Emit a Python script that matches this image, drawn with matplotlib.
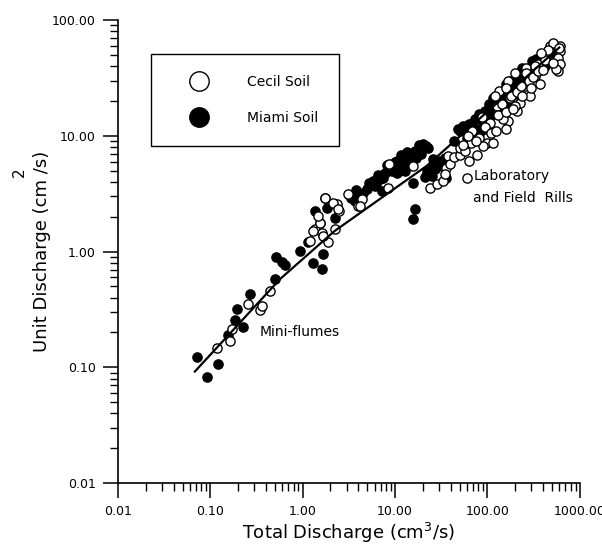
import matplotlib
matplotlib.use("Agg")
import matplotlib.pyplot as plt
from matplotlib.lines import Line2D
from matplotlib.ticker import FixedLocator, LogLocator, NullFormatter

# total discharge (cm3/s) and unit discharge (cm2/s)
cecil_q = [0.117, 0.162, 0.17, 0.254, 0.343, 0.36, 0.44, 1.19, 1.35, 1.61,
           1.53, 1.86, 1.73, 2.33, 2.5, 3.07, 2.22, 1.65, 3.94, 1.28,
           1.45, 2.11, 2.39, 4.35, 4.14, 8.7, 8.3, 15.5, 23.7, 28.2,
           32.7, 36, 37, 34.4, 39, 44, 50, 64, 78, 59.6,
           67, 50, 100, 471, 604, 604, 575, 604, 575, 367,
           286, 224, 207, 167, 161, 146, 135, 167, 265, 349,
           416, 82, 89, 114, 69, 175, 197, 106, 253, 330,
           508, 126, 57, 95, 110, 125, 130, 145, 160, 180,
           190, 210, 230, 240, 260, 280, 300, 310, 330, 350,
           400, 420, 450, 380, 600, 550, 520, 88, 75, 55,
           62, 120, 200, 160]
cecil_u = [0.148, 0.17, 0.216, 0.356, 0.31, 0.342, 0.46, 1.24, 1.58, 1.46,
           1.78, 1.2, 2.93, 2.6, 2.26, 3.17, 1.58, 1.37, 2.5, 1.52,
           2.05, 2.65, 2.35, 2.87, 2.5, 5.75, 3.57, 5.53, 3.57, 3.87,
           4.1, 5.3, 6.7, 4.72, 5.75, 6.6, 6.8, 6.1, 6.8, 4.36,
           8.7, 7.9, 8.6, 60, 60, 54.4, 47.4, 42, 36.6, 28.2,
           22.2, 19.4, 16.5, 13.5, 11.5, 14.1, 24.6, 30, 38.8, 42,
           51.3, 9.6, 8.2, 8.6, 11.1, 21.4, 18.2, 13, 27.2, 33,
           63.8, 18.2, 7.45, 12, 10.5, 11, 15, 19, 16, 22,
           17, 24, 27, 22, 35, 30, 26, 32, 40, 36,
           37, 45, 55, 52, 57, 38, 43, 14.5, 9, 8.3,
           10, 22, 35, 26]

miami_q = [0.071, 0.091, 0.12, 0.154, 0.184, 0.193, 0.224, 0.267, 0.50, 0.52,
           0.59, 0.65, 0.93, 1.28, 1.61, 1.65, 1.13, 1.35, 1.73, 1.82,
           2.22, 1.53, 4.14, 4.93, 5.72, 6.8, 7.7, 8.7, 10.4, 12.1,
           14.4, 16.3, 18.5, 21.4, 7.3, 10.4, 12.7, 9.9, 6.0, 3.65,
           15.5, 16.3, 15.5, 22, 25.5, 30.4, 25, 23.6, 28.2, 36,
           50, 59.6, 54, 82, 89, 64, 82, 114, 135, 161,
           183, 207, 224, 240, 286, 308, 367, 395, 471, 561,
           106, 135, 73, 175, 265, 416, 96, 44, 47.5, 3.3,
           3.8, 4.5, 5.2, 6.2, 6.5, 7.5, 8.2, 9.3, 11, 11.5,
           13, 13.5, 17, 19, 20, 23, 18, 21, 24, 27,
           32, 35, 26, 90, 100, 110, 120, 130, 150, 155,
           170, 190, 200, 215, 230, 250, 270, 300, 320, 340,
           380, 420, 450, 500, 530, 480, 60, 70, 75, 85,
           95, 105, 140, 160, 185]
miami_u = [0.122, 0.083, 0.106, 0.192, 0.254, 0.322, 0.225, 0.434, 0.585, 0.89,
           0.82, 0.77, 1.02, 0.80, 0.71, 0.96, 1.2, 2.26, 2.93, 2.4,
           1.97, 1.78, 3.05, 3.5, 4.1, 4.27, 4.81, 5.3, 6.1, 6.5,
           6.7, 7.45, 7.9, 8.2, 3.36, 4.8, 5.0, 5.9, 3.7, 2.75,
           3.94, 2.35, 1.93, 5.0, 5.53, 6.1, 4.53, 5.0, 5.75, 4.36,
           11.1, 9.6, 12.2, 10.4, 12.7, 12.7, 15.6, 21.4, 20.1, 26.1,
           24.6, 31.8, 27.2, 38.8, 36.6, 44.6, 40.4, 47.4, 54.4, 57.8,
           17.2, 16.5, 14.1, 30, 31.8, 40.4, 11.5, 9.1, 11.5, 2.9,
           3.4, 3.2, 3.9, 3.8, 4.6, 4.3, 5.6, 5.0, 5.5, 6.8,
           6.0, 7.2, 6.5, 7.0, 8.5, 7.9, 8.3, 4.4, 4.8, 5.2,
           5.5, 6.5, 6.3, 14, 13, 15, 19, 17, 22, 18,
           20, 28, 23, 26, 32, 29, 33, 38, 35, 46,
           44, 50, 48, 52, 56, 58, 10.5, 12, 10, 11.5,
           16.5, 19, 24, 28, 25]

# fitted curve
fit_q = [0.068, 0.57, 2.2, 22, 600]
fit_u = [0.092, 0.58, 1.5, 5.5, 58]

major = [0.01, 0.1, 1, 10, 100, 1000]
major_labels = ["0.01", "0.10", "1.00", "10.00", "100.00", "1000.00"]

fig = plt.figure(figsize=(6.02, 5.44), dpi=100)
ax = fig.add_axes([0.196, 0.112, 0.767, 0.851])

ax.scatter(miami_q, miami_u, s=44, facecolor="black", edgecolor="black",
           linewidth=1, zorder=3)
ax.scatter(cecil_q, cecil_u, s=44, facecolor="white", edgecolor="black",
           linewidth=1, zorder=4)
ax.plot(fit_q, fit_u, color="black", lw=1.6, zorder=5)

ax.set_xscale("log")
ax.set_yscale("log")
ax.set_xlim(0.01, 1000)
ax.set_ylim(0.01, 100)

ax.xaxis.set_major_locator(FixedLocator(major))
ax.set_xticklabels(major_labels)
ax.yaxis.set_major_locator(FixedLocator(major[:-1]))
ax.set_yticklabels(major_labels[:-1])
for axis in (ax.xaxis, ax.yaxis):
    axis.set_minor_locator(LogLocator(base=10, subs=range(2, 10)))
    axis.set_minor_formatter(NullFormatter())

ax.tick_params(which="major", length=11, width=1.1, direction="out",
               labelsize=9, pad=5)
ax.tick_params(which="minor", length=6, width=1, direction="out")
ax.spines["top"].set_visible(False)
ax.spines["right"].set_visible(False)
ax.spines["left"].set_linewidth(1.2)
ax.spines["bottom"].set_linewidth(1.2)

ax.set_xlabel("Total Discharge (cm$^3$/s)", fontsize=13, labelpad=2)
ax.set_ylabel("Unit Discharge (cm /s)", fontsize=13)
ax.yaxis.set_label_coords(-0.145, 0.5)
fig.text(19 / 602, 1 - 172 / 544, "2", rotation=90, fontsize=11,
         ha="center", va="center")

ax.text(0.34, 0.2, "Mini-flumes", fontsize=10, va="center")
ax.text(71, 4.5, "Laboratory", fontsize=10, va="center")
ax.text(70, 2.93, "and Field  Rills", fontsize=10, va="center")

handles = [
    Line2D([], [], marker="o", ls="none", markersize=14,
           markerfacecolor="white", markeredgecolor="black", markeredgewidth=1),
    Line2D([], [], marker="o", ls="none", markersize=14,
           markerfacecolor="black", markeredgecolor="black"),
]
leg = ax.legend(handles, ["Cecil Soil", "Miami Soil"], loc="upper left",
                bbox_to_anchor=(151 / 602, 1 - 54 / 544),
                bbox_transform=fig.transFigure, borderaxespad=0,
                fontsize=10, borderpad=1.5, handlelength=3.9,
                handletextpad=1.5, labelspacing=1.6, fancybox=False,
                framealpha=1, edgecolor="black")
leg.get_frame().set_linewidth(1.0)

fig.savefig("out.png", dpi=100)
